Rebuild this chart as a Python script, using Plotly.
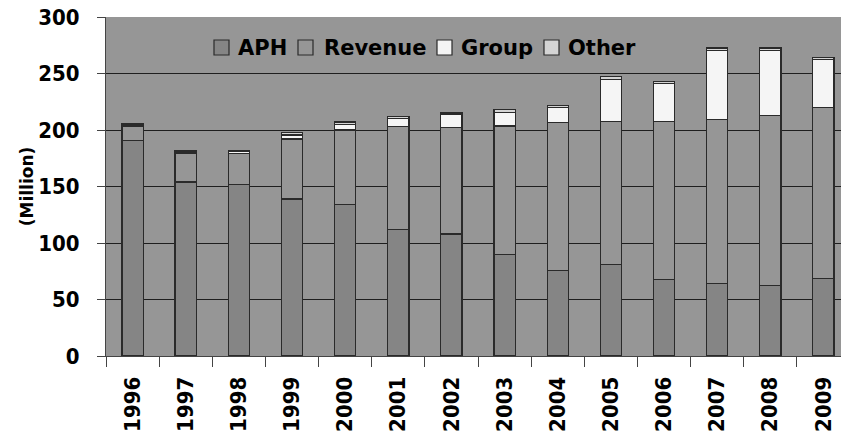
import plotly.graph_objects as go

years = ["1996", "1997", "1998", "1999", "2000", "2001", "2002",
         "2003", "2004", "2005", "2006", "2007", "2008", "2009"]
aph = [191, 154, 152, 139, 134, 112, 108, 90, 76, 81, 67.5, 64, 62.5, 68.5]
revenue = [12, 25, 27.5, 53, 66, 91, 94, 113.5, 130.5, 126.5, 140, 145.5, 150.5, 151.5]
group = [1.5, 1.5, 1.5, 3.5, 5, 7, 12, 12, 13.5, 37.5, 33.5, 61, 57.5, 42.5]
other = [1.5, 1.5, 1, 2, 2, 2, 1, 2.5, 1.5, 2, 2, 2, 2, 2]

series = [("APH", aph, "#858585"), ("Revenue", revenue, "#969696"),
          ("Group", group, "#f5f5f5"), ("Other", other, "#d4d4d4")]

W, H = 841, 439
L, R, T, B = 106, 0, 17, 83
PW, PH = W - L - R, H - T - B

FONT = "DejaVu Sans Condensed"
LFONT = "DejaVu Sans"
EDGE = "#2a2a2a"

fig = go.Figure()
for name, vals, col in series:
    fig.add_trace(go.Bar(x=years, y=vals, name=name, showlegend=False,
                         marker=dict(color=col, line=dict(color=EDGE, width=1.2))))

# custom legend (compact, as in the original)
def px_x(p):
    return (p - L) / PW

def px_y(p):
    return (H - B - p) / PH

sym_x = [214, 298, 437, 544]
txt_x = [237, 323, 460, 567]
shapes, annos = [], []
for (name, _, col), sx, tx in zip(series, sym_x, txt_x):
    shapes.append(dict(type="rect", xref="paper", yref="paper",
                       x0=px_x(sx), x1=px_x(sx + 15), y0=px_y(55), y1=px_y(40),
                       fillcolor=col, line=dict(color=EDGE, width=1.2), layer="above"))
    annos.append(dict(text=name, xref="paper", yref="paper", x=px_x(tx - 1), y=px_y(47.5),
                      xanchor="left", yanchor="middle", showarrow=False,
                      font=dict(family=LFONT, size=21, weight="bold", color="black")))

fig.update_layout(
    barmode="stack",
    bargap=0.6,
    width=W, height=H,
    margin=dict(l=L, r=R, t=T, b=B, autoexpand=False),
    paper_bgcolor="white",
    plot_bgcolor="#969696",
    font=dict(family=FONT, size=22, color="black"),
    shapes=shapes,
    annotations=annos,
)
fig.update_yaxes(range=[0, 300], dtick=50, showgrid=True, gridcolor="#1e1e1e", gridwidth=1,
                 showline=True, linecolor="#444", linewidth=1,
                 ticks="outside", ticklen=8, tickcolor="#444", ticklabelstandoff=13,
                 tickfont=dict(family=FONT, size=22, weight="bold"),
                 title=dict(text="(Million)", font=dict(family=LFONT, size=17, weight="bold"),
                            standoff=0),
                 zeroline=False, automargin=False)
fig.update_xaxes(range=[-0.5, 13.33], tickangle=-90, showline=True, linecolor="#444",
                 linewidth=1, ticks="outside", ticklen=10, tickcolor="#444",
                 ticklabelstandoff=11,
                 tickson="boundaries", showgrid=False, automargin=False,
                 tickfont=dict(family=FONT, size=22, weight="bold"))

fig.write_html("out.html", config={"displayModeBar": False},
               post_script="document.body.style.margin='0';document.body.style.overflow='hidden';")
